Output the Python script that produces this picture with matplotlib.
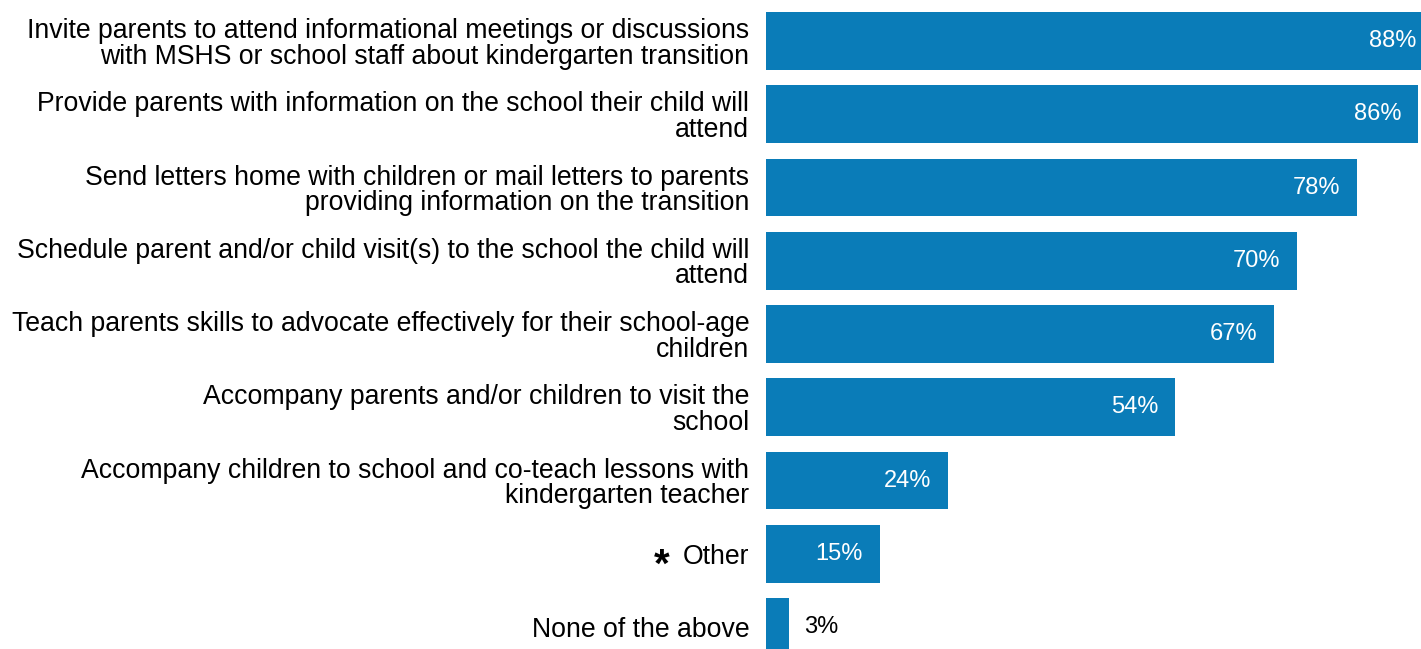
import matplotlib.pyplot as plt

plt.rcParams['font.family'] = ['Liberation Sans', 'DejaVu Sans']

# 数据
categories = [
    "Invite parents to attend informational meetings or discussions\nwith MSHS or school staff about kindergarten transition",
    "Provide parents with information on the school their child will\nattend",
    "Send letters home with children or mail letters to parents\nproviding information on the transition",
    "Schedule parent and/or child visit(s) to the school the child will\nattend",
    "Teach parents skills to advocate effectively for their school-age\nchildren",
    "Accompany parents and/or children to visit the\nschool",
    "Accompany children to school and co-teach lessons with\nkindergarten teacher",
    "Other",
    "None of the above",
]
values = [88, 86, 78, 70, 67, 54, 24, 15, 3]
value_labels = ["88%", "86%", "78%", "70%", "67%", "54%", "24%", "15%", "3%"]

bar_color = '#0A7CB8'

fig = plt.figure(figsize=(14.21, 6.49), dpi=100)
ax = fig.add_axes([766 / 1421, 0, 758 / 1421, 1])

ypos = list(range(len(values)))
ax.barh(ypos, values, height=0.79, color=bar_color)

ax.set_xlim(0, 100)
ax.set_ylim(8.30, -0.56)

# 数值标签
for y, v, lab in zip(ypos, values, value_labels):
    if v >= 10:
        ax.annotate(lab, (v, y), xytext=(-12, 0), textcoords='offset points',
                    ha='right', va='center', color='white', fontsize=17)
    else:
        ax.annotate(lab, (v, y), xytext=(11, 0), textcoords='offset points',
                    ha='left', va='center', color='black', fontsize=17)

ax.set_yticks(ypos)
ax.set_yticklabels(categories, fontsize=19.2, linespacing=0.98)
ax.tick_params(axis='y', length=0, pad=12)
ax.set_xticks([])
for s in ax.spines.values():
    s.set_visible(False)

# "Other" 前的星号
ax.annotate('*', (0, 7), xytext=(-75, -9), textcoords='offset points',
            ha='center', va='center', fontsize=29, fontweight='bold')

fig.savefig('out.png', dpi=100)
